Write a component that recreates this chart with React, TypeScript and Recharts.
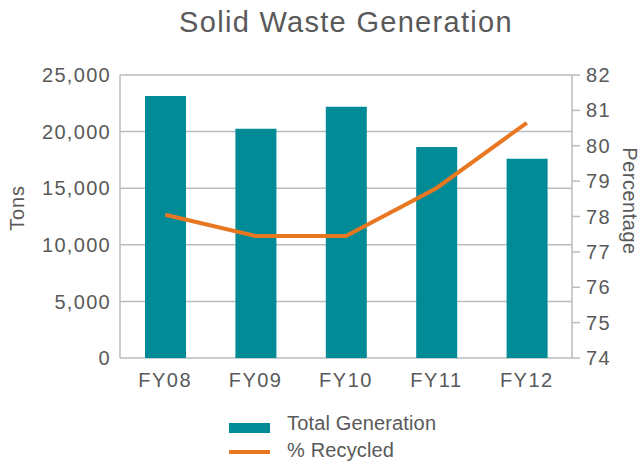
import { ComposedChart, Bar, Line, XAxis, YAxis, CartesianGrid, Legend } from 'recharts'

const YEARS = ['FY08', 'FY09', 'FY10', 'FY11', 'FY12']
const TOTAL_TONS = [23150, 20250, 22200, 18650, 17600]
const PCT_RECYCLED = [78.05, 77.45, 77.45, 78.8, 80.65]
const TONS_TICKS = [0, 5000, 10000, 15000, 20000, 25000]
const PCT_TICKS = [74, 75, 76, 77, 78, 79, 80, 81, 82]

const TEAL = '#008b96'
const ORANGE = '#e87722'
const TEXT = '#595959'
const GRID = '#b9bdc1'
const FONT = '"Liberation Sans", Arial, sans-serif'

const data = YEARS.map((year, i) => ({
  year,
  total: TOTAL_TONS[i],
  pct: PCT_RECYCLED[i],
}))

const tickStyle = { fill: TEXT, fontSize: 20, fontFamily: FONT, letterSpacing: 1.3 }

function LegendBox() {
  const row = { display: 'flex', alignItems: 'flex-start', height: 27 }
  const label = { marginLeft: 17, fontSize: 20, lineHeight: '27px', color: TEXT, fontFamily: FONT, letterSpacing: 0.15 }
  return (
    <div>
      <div style={row}>
        <svg width={41} height={27}>
          <rect x={0} y={13} width={41} height={10} fill={TEAL} />
        </svg>
        <span style={label}>Total Generation</span>
      </div>
      <div style={row}>
        <svg width={41} height={27}>
          <line x1={0} x2={41} y1={15} y2={15} stroke={ORANGE} strokeWidth={4} />
        </svg>
        <span style={label}>% Recycled</span>
      </div>
    </div>
  )
}

export default function App() {
  return (
    <div style={{ position: 'absolute', left: 0, top: 0, width: 641, height: 465, background: '#fff' }}>
      <div
        style={{
          position: 'absolute',
          left: 120,
          top: 8,
          width: 452,
          textAlign: 'center',
          fontFamily: FONT,
          fontSize: 29,
          lineHeight: '28px',
          letterSpacing: 1.3,
          color: TEXT,
        }}
      >
        Solid Waste Generation
      </div>
      <ComposedChart width={641} height={465} data={data} margin={{ top: 75, right: 0, left: 0, bottom: 0 }}>
        <CartesianGrid yAxisId="tons" vertical={false} stroke={GRID} strokeWidth={1.5} />
        <XAxis
          dataKey="year"
          height={107}
          axisLine={false}
          tickLine={false}
          tickSize={0}
          tickMargin={15}
          tick={{ ...tickStyle, letterSpacing: 1.5 }}
        />
        <YAxis
          yAxisId="tons"
          orientation="left"
          width={120}
          domain={[0, 25000]}
          ticks={TONS_TICKS}
          tickFormatter={(v: number) => v.toLocaleString('en-US')}
          axisLine={{ stroke: GRID, strokeWidth: 1.5 }}
          tickLine={false}
          tickSize={0}
          tickMargin={9}
          tick={tickStyle}
          label={{
            content: () => (
              <text
                x={17}
                y={208}
                transform="rotate(-90 17 208)"
                textAnchor="middle"
                dominantBaseline="central"
                fill={TEXT}
                fontSize={20}
                fontFamily={FONT}
                letterSpacing={0.8}
              >
                Tons
              </text>
            ),
          }}
        />
        <YAxis
          yAxisId="pct"
          orientation="right"
          width={69}
          domain={[74, 82]}
          ticks={PCT_TICKS}
          axisLine={{ stroke: GRID, strokeWidth: 1.5 }}
          tickLine={{ stroke: GRID, strokeWidth: 1.5 }}
          tickSize={8}
          tickMargin={6}
          tick={tickStyle}
          label={{
            content: () => (
              <text
                x={630}
                y={201}
                transform="rotate(90 630 201)"
                textAnchor="middle"
                dominantBaseline="central"
                fill={TEXT}
                fontSize={20}
                fontFamily={FONT}
                letterSpacing={0.5}
              >
                Percentage
              </text>
            ),
          }}
        />
        <Legend
          layout="horizontal"
          verticalAlign="middle"
          align="center"
          content={() => <LegendBox />}
          wrapperStyle={{ top: 410, left: 229, width: 260, height: 54 }}
        />
        <Bar yAxisId="tons" dataKey="total" name="Total Generation" fill={TEAL} barSize={41} isAnimationActive={false} />
        <Line
          yAxisId="pct"
          type="linear"
          dataKey="pct"
          name="% Recycled"
          stroke={ORANGE}
          strokeWidth={4}
          dot={false}
          activeDot={false}
          isAnimationActive={false}
        />
      </ComposedChart>
    </div>
  )
}
